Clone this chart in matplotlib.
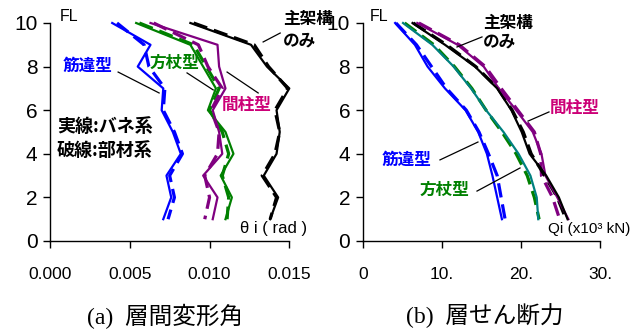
import matplotlib
matplotlib.use("Agg")
import matplotlib.pyplot as plt

# Floors, top to bottom
floors = [10, 9, 8, 7, 6, 5, 4, 3, 2, 1]

# (a) story drift angle [rad]  (_s: spring model, _d: member model)
drift_brace_s = [0.0039, 0.0063, 0.0055, 0.0071, 0.0070, 0.0077, 0.0082, 0.0073, 0.0076, 0.0071]
drift_brace_d = [0.0042, 0.0059, 0.0062, 0.0072, 0.0071, 0.0078, 0.0083, 0.0075, 0.0078, 0.0074]
drift_knee_s = [0.0054, 0.0088, 0.0096, 0.0104, 0.0099, 0.0110, 0.0115, 0.0107, 0.0114, 0.0110]
drift_knee_d = [0.0056, 0.0090, 0.0098, 0.0106, 0.0100, 0.0108, 0.0112, 0.0108, 0.0112, 0.0111]
drift_stud_s = [0.0063, 0.0105, 0.0106, 0.0110, 0.0102, 0.0106, 0.0108, 0.0096, 0.0105, 0.0102]
drift_stud_d = [0.0065, 0.0093, 0.0099, 0.0108, 0.0101, 0.0106, 0.0105, 0.0097, 0.0100, 0.0097]
drift_frame_s = [0.0088, 0.0126, 0.0136, 0.0150, 0.0142, 0.0144, 0.0142, 0.0134, 0.0143, 0.0138]
drift_frame_d = [0.0090, 0.0128, 0.0137, 0.0149, 0.0141, 0.0144, 0.0141, 0.0133, 0.0142, 0.0138]

# (b) story shear [x10^3 kN]
shear_brace_s = [4.1, 6.6, 8.2, 10.4, 13.0, 14.6, 15.7, 16.4, 17.0, 17.6]
shear_brace_d = [4.2, 6.8, 8.7, 10.6, 13.1, 14.7, 15.9, 17.0, 17.5, 18.0]
shear_knee_s = [5.1, 8.8, 11.5, 13.7, 15.6, 17.8, 19.7, 21.2, 22.0, 22.2]
shear_knee_d = [5.3, 9.0, 11.6, 13.8, 15.6, 17.6, 19.4, 20.8, 21.7, 22.3]
shear_stud_s = [6.9, 12.0, 15.3, 17.2, 19.4, 21.5, 22.6, 23.1, 24.6, 26.0]
shear_stud_d = [7.1, 12.2, 15.5, 17.5, 19.6, 21.7, 22.5, 22.6, 24.0, 24.9]
shear_frame_s = [6.3, 10.4, 14.2, 17.0, 18.8, 20.1, 21.1, 23.2, 24.8, 25.9]
shear_frame_d = [6.4, 10.6, 14.3, 17.1, 18.9, 20.3, 21.3, 23.0, 24.6, 25.7]

yticks = [0, 2, 4, 6, 8, 10]
xticks_a = [0.0, 0.005, 0.010, 0.015]
xlabels_a = ["0.000", "0.005", "0.010", "0.015"]
xticks_b = [0, 10, 20, 30]
xlabels_b = ["0", "10.", "20.", "30."]

BLUE = "#0000FF"
GREEN = "#008000"
TEAL = "#008080"
PURPLE = "#800080"
MAGENTA = "#CC0077"
BLACK = "#000000"

SANS = ["Liberation Sans", "DejaVu Sans"]
CJK = ["Noto Sans CJK JP", "DejaVu Sans"]
TITLE = ["Liberation Serif", "Noto Sans CJK JP"]

fig = plt.figure(figsize=(6.33, 3.36), dpi=100)
ax1 = fig.add_axes([50 / 633, 1 - 241 / 336, 239.3 / 633, 218 / 336])
ax2 = fig.add_axes([362.7 / 633, 1 - 241 / 336, 237.3 / 633, 218 / 336])

LW_S = 1.6
LW_D = 2.3
DASH = (4.5, 2.2)


def pair(ax, xs, xd, c_s, c_d):
    ax.plot(xd, floors, color=c_d, lw=LW_D, dashes=DASH, clip_on=False, zorder=3)
    ax.plot(xs, floors, color=c_s, lw=LW_S, clip_on=False, zorder=4)


pair(ax1, drift_brace_s, drift_brace_d, BLUE, BLUE)
pair(ax1, drift_knee_s, drift_knee_d, GREEN, GREEN)
pair(ax1, drift_stud_s, drift_stud_d, PURPLE, PURPLE)
pair(ax1, drift_frame_s, drift_frame_d, BLACK, BLACK)

pair(ax2, shear_brace_s, shear_brace_d, BLUE, BLUE)
pair(ax2, shear_knee_s, shear_knee_d, TEAL, GREEN)
pair(ax2, shear_stud_s, shear_stud_d, PURPLE, PURPLE)
pair(ax2, shear_frame_s, shear_frame_d, BLACK, BLACK)

for ax, xt, xl, xlim in ((ax1, xticks_a, xlabels_a, (0, 0.015)),
                         (ax2, xticks_b, xlabels_b, (0, 30))):
    ax.set_xlim(*xlim)
    ax.set_ylim(0, 10)
    ax.set_xticks(xt)
    ax.set_xticklabels(xl, family=SANS, fontsize=12.5)
    ax.set_yticks(yticks)
    ax.set_yticklabels([str(v) for v in yticks], family=SANS, fontsize=15)
    ax.spines["top"].set_visible(False)
    ax.spines["right"].set_visible(False)
    for s in ("left", "bottom"):
        ax.spines[s].set_linewidth(1.0)
    ax.tick_params(axis="x", direction="out", length=5, width=1, pad=14)
    ax.tick_params(axis="y", direction="out", length=5, width=1, pad=4)
    ax.patch.set_visible(False)


def lead(ax, x0, y0, x1, y1):
    ax.plot([x0, x1], [y0, y1], color="black", lw=0.9, clip_on=False, zorder=5)


def label(ax, x, y, s, color="black", size=12, family=CJK, weight="bold", **kw):
    ax.text(x, y, s, color=color, fontsize=size, family=family, weight=weight,
            ha="left", va="center", clip_on=False, zorder=6, **kw)


# (a) annotations
label(ax1, 0.00063, 10.32, "FL", size=11.5, family=SANS, weight="normal")
label(ax1, 0.00082, 8.05, "筋違型", BLUE)
lead(ax1, 0.00427, 7.75, 0.00684, 6.79)
label(ax1, 0.00627, 8.19, "方杖型", GREEN)
lead(ax1, 0.00859, 7.71, 0.01023, 6.93)
label(ax1, 0.01079, 6.26, "間柱型", MAGENTA)
lead(ax1, 0.01110, 7.75, 0.01305, 6.79)
label(ax1, 0.01462, 10.18, "主架構")
label(ax1, 0.01462, 9.22, "のみ")
lead(ax1, 0.01336, 9.13, 0.01443, 9.54)
label(ax1, 0.00044, 5.25, "実線:バネ系", size=13)
label(ax1, 0.00044, 4.17, "破線:部材系", size=13)
label(ax1, 0.01192, 0.57, "θ i ( rad )", size=12, family=SANS, weight="normal")

# (b) annotations
label(ax2, 0.92, 10.32, "FL", size=11.5, family=SANS, weight="normal")
label(ax2, 15.21, 10.02, "主架構")
label(ax2, 15.21, 9.15, "のみ")
lead(ax2, 11.92, 8.90, 15.08, 9.36)
label(ax2, 23.68, 6.12, "間柱型", MAGENTA)
lead(ax2, 20.90, 5.50, 23.55, 5.92)
label(ax2, 2.44, 3.74, "筋違型", BLUE)
lead(ax2, 9.77, 3.72, 14.57, 4.54)
label(ax2, 7.24, 2.36, "方杖型", GREEN)
lead(ax2, 14.45, 2.29, 19.89, 3.35)
label(ax2, 23.43, 0.57, "Qi (x10³ kN)", size=11, family=SANS, weight="normal")

# panel captions
fig.text(165 / 633, 1 - 316 / 336, "(a)  層間変形角", family=TITLE, fontsize=17,
         ha="center", va="center")
fig.text(485 / 633, 1 - 316 / 336, "(b)  層せん断力", family=TITLE, fontsize=17,
         ha="center", va="center")

fig.savefig("out.png", dpi=100)
